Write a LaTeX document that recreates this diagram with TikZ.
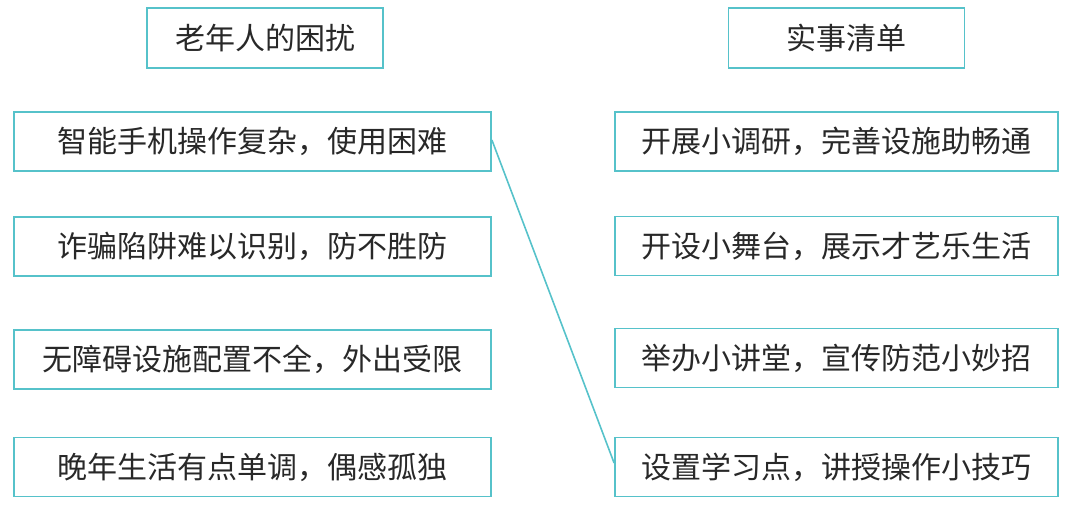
\documentclass[tikz,border=0pt]{standalone}
\usepackage{fontspec}
\newfontfamily\cjk{Noto Sans CJK SC}
\definecolor{boxline}{RGB}{86,194,202}
\definecolor{txt}{RGB}{40,40,40}
\begin{document}
\begin{tikzpicture}[x=1pt,y=-1pt,
  boxbase/.style={draw=boxline,line width=1.8pt,inner sep=0pt,font=\cjk\fontsize{30}{34}\selectfont,text=txt},
  hbox/.style={boxbase,minimum width=236pt,minimum height=60pt},
  lbox/.style={boxbase,minimum width=477pt,minimum height=59pt},
  rbox/.style={boxbase,minimum width=443pt,minimum height=59pt},
  link/.style={draw=boxline,line width=1.6pt}]
\useasboundingbox (0,0) rectangle (1081,504);
\node[hbox] (h1) at (265,38) {老年人的困扰};
\node[hbox] (h2) at (846.5,38) {实事清单};
\node[lbox] (l1) at (252.5,141.5) {智能手机操作复杂，使用困难};
\node[lbox] (l2) at (252.5,246.5) {诈骗陷阱难以识别，防不胜防};
\node[lbox] (l3) at (252.5,359.5) {无障碍设施配置不全，外出受限};
\node[lbox] (l4) at (252.5,467) {晚年生活有点单调，偶感孤独};
\node[rbox] (r1) at (836.5,141.5) {开展小调研，完善设施助畅通};
\node[rbox] (r2) at (836.5,246) {开设小舞台，展示才艺乐生活};
\node[rbox] (r3) at (836.5,358) {举办小讲堂，宣传防范小妙招};
\node[rbox] (r4) at (836.5,467) {设置学习点，讲授操作小技巧};
\draw[link] ([yshift=1.5pt]l1.east) -- ([yshift=4pt]r4.west);
\end{tikzpicture}
\end{document}
